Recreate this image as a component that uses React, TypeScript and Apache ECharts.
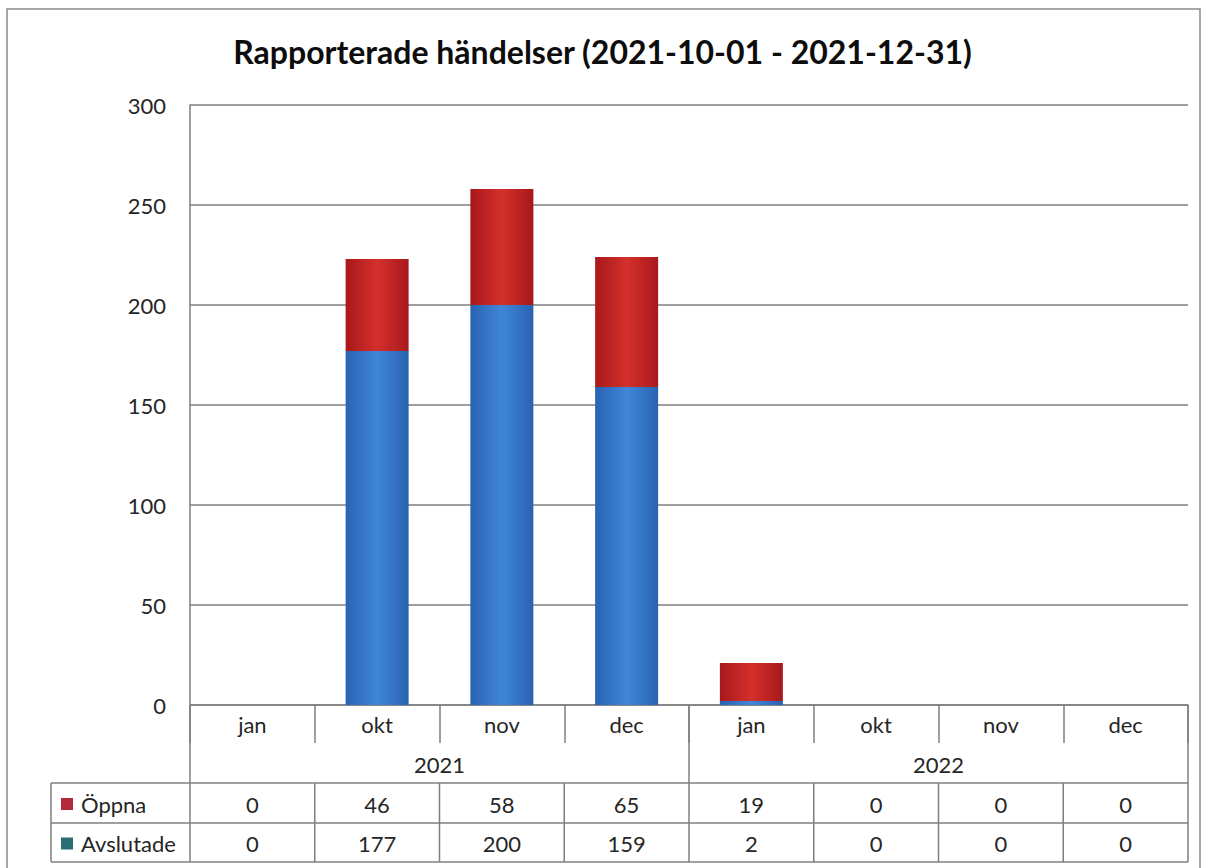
import React, { useEffect, useRef } from "react";
import * as echarts from "echarts";

const titleText = "Rapporterade händelser (2021-10-01 - 2021-12-31)";
const months = ["jan", "okt", "nov", "dec", "jan", "okt", "nov", "dec"];
const years = ["2021", "2022"];
const monthsPerYear = 4;
const oppna = [0, 46, 58, 65, 19, 0, 0, 0];
const avslutade = [0, 177, 200, 159, 2, 0, 0, 0];
const seriesNames = ["Öppna", "Avslutade"];
const yMin = 0;
const yMax = 300;
const yInterval = 50;

const FONT = "Lato, 'Open Sans', sans-serif";
const LINE = "#7f7f7f";
const TXT = "#262626";
const FS = 22;

export default function App() {
  const ref = useRef<HTMLDivElement>(null);
  useEffect(() => {
    if (!ref.current) return;
    const chart = echarts.init(ref.current, null, { renderer: "svg" });
    const gridLeft = 190;
    const gridRight = 17;
    const gridTop = 105;
    const gridBottom = 163;
    const W = 1205;
    const H = 868;
    const x0 = gridLeft;
    const x1 = W - gridRight;
    const yAxis0 = H - gridBottom; // 705
    const rowMonthEnd = 743;
    const rowYearEnd = 783;
    const rowOppEnd = 823;
    const rowAvsEnd = 862;
    const legendLeft = 51;

    const redGrad = new echarts.graphic.LinearGradient(0, 0, 1, 0, [
      { offset: 0, color: "#a8181c" },
      { offset: 0.5, color: "#d4302b" },
      { offset: 1, color: "#a8181c" },
    ]);
    const blueGrad = new echarts.graphic.LinearGradient(0, 0, 1, 0, [
      { offset: 0, color: "#2a62b3" },
      { offset: 0.5, color: "#3f86d8" },
      { offset: 1, color: "#2a62b3" },
    ]);

    chart.setOption({
      animation: false,
      backgroundColor: "#ffffff",
      title: {
        text: titleText,
        left: "center",
        top: 30,
        textStyle: { fontFamily: FONT, fontWeight: "bold", fontSize: 32, color: "#0d0d0d" },
      },
      grid: { left: gridLeft, right: gridRight, top: gridTop, bottom: gridBottom },
      xAxis: {
        type: "category",
        data: months,
        axisLine: { show: true, lineStyle: { color: LINE, width: 1.5 } },
        axisTick: { show: true, length: rowMonthEnd - yAxis0, lineStyle: { color: LINE, width: 1.5 } },
        axisLabel: { color: TXT, fontFamily: FONT, fontSize: FS, margin: 8 },
        splitLine: { show: false },
      },
      yAxis: {
        type: "value",
        min: yMin,
        max: yMax,
        interval: yInterval,
        axisLine: { show: true, lineStyle: { color: LINE, width: 1.5 } },
        axisTick: { show: false },
        axisLabel: { color: TXT, fontFamily: FONT, fontSize: FS, margin: 24 },
        splitLine: { show: true, lineStyle: { color: LINE, width: 1.5 } },
      },
      series: [
        {
          name: seriesNames[1],
          type: "bar",
          stack: "s",
          data: avslutade,
          barWidth: 63,
          itemStyle: { color: blueGrad },
        },
        {
          name: seriesNames[0],
          type: "bar",
          stack: "s",
          data: oppna,
          barWidth: 63,
          itemStyle: { color: redGrad },
        },
      ],
    });

    const colW = (x1 - x0) / months.length;
    const centers = months.map((_, i) => chart.convertToPixel({ xAxisIndex: 0 }, i) as number);
    const g: any[] = [];
    const line = (ax: number, ay: number, bx: number, by: number) =>
      g.push({
        type: "line",
        shape: { x1: ax, y1: ay, x2: bx, y2: by },
        style: { stroke: LINE, lineWidth: 1.5 },
        silent: true,
      });
    // outer chart border
    g.push({
      type: "rect",
      shape: { x: 7, y: 9, width: 1193, height: 880 },
      style: { fill: "none", stroke: "#8a8a8a", lineWidth: 1.5 },
      silent: true,
      z: -1,
    });
    // table structure
    line(x0, yAxis0, x0, rowAvsEnd);
    line(x1, yAxis0, x1, rowAvsEnd);
    line(legendLeft, rowYearEnd, x1, rowYearEnd);
    line(legendLeft, rowOppEnd, x1, rowOppEnd);
    line(legendLeft, rowAvsEnd, x1, rowAvsEnd);
    line(legendLeft, rowYearEnd, legendLeft, rowAvsEnd);
    for (let i = 1; i < months.length; i++) {
      const x = x0 + colW * i;
      if (i % monthsPerYear === 0) line(x, yAxis0, x, rowAvsEnd);
      else line(x, rowYearEnd, x, rowAvsEnd);
    }
    // year labels
    years.forEach((yr, k) => {
      const a = x0 + colW * monthsPerYear * k;
      const b = a + colW * monthsPerYear;
      g.push({
        type: "text",
        x: (a + b) / 2,
        y: (rowMonthEnd + rowYearEnd) / 2 + 1,
        style: { text: yr, fill: TXT, font: `${FS}px ${FONT}`, align: "center", verticalAlign: "middle" },
      });
    });
    // data rows
    const rows = [
      { name: seriesNames[0], vals: oppna, marker: "#b02a3a", top: rowYearEnd, bottom: rowOppEnd },
      { name: seriesNames[1], vals: avslutade, marker: "#2b6d74", top: rowOppEnd, bottom: rowAvsEnd },
    ];
    rows.forEach((r) => {
      const cy = (r.top + r.bottom) / 2 + 1;
      g.push({
        type: "rect",
        shape: { x: 61, y: cy - 6, width: 12, height: 12 },
        style: { fill: r.marker },
      });
      g.push({
        type: "text",
        x: 81,
        y: cy,
        style: { text: r.name, fill: TXT, font: `${FS}px ${FONT}`, align: "left", verticalAlign: "middle" },
      });
      r.vals.forEach((v, i) => {
        g.push({
          type: "text",
          x: centers[i],
          y: cy,
          style: { text: String(v), fill: TXT, font: `${FS}px ${FONT}`, align: "center", verticalAlign: "middle" },
        });
      });
    });
    chart.setOption({ graphic: g });

    return () => chart.dispose();
  }, []);
  return (
    <div
      ref={ref}
      style={{ position: "fixed", left: 0, top: 0, width: 1205, height: 868 }}
    />
  );
}
